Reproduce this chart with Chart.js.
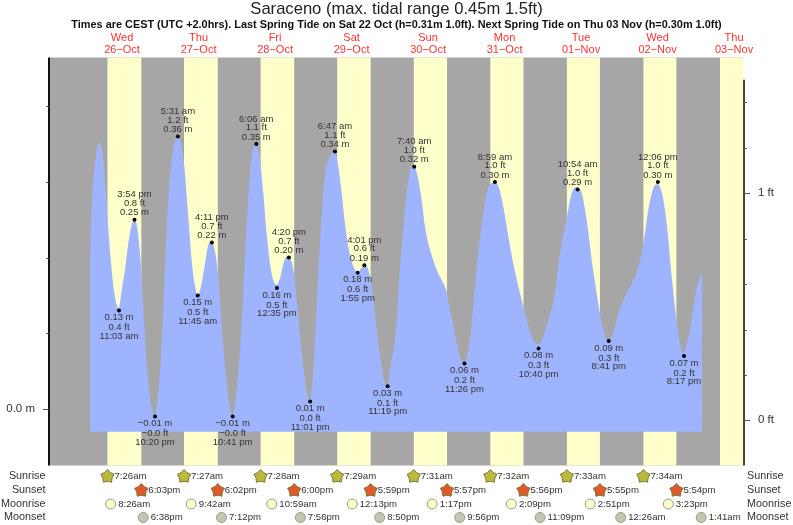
<!DOCTYPE html>
<html>
<head>
<meta charset="utf-8">
<title>Saraceno tide chart</title>
<script src="https://cdn.jsdelivr.net/npm/chart.js@4"></script>
<style>
  html, body { margin: 0; padding: 0; background: #fff; }
  canvas { display: block; }
</style>
</head>
<body>
<canvas id="tideChart" width="793" height="525"></canvas>
<script>
// --- data ---
const titleText = "Saraceno (max. tidal range 0.45m 1.5ft)";
const subtitleText = "Times are CEST (UTC +2.0hrs). Last Spring Tide on Sat 22 Oct (h=0.31m 1.0ft). Next Spring Tide on Thu 03 Nov (h=0.30m 1.0ft)";

const dayNames = ["Wed", "Thu", "Fri", "Sat", "Sun", "Mon", "Tue", "Wed", "Thu"];
const dayDates = ["26\u2212Oct", "27\u2212Oct", "28\u2212Oct", "29\u2212Oct", "30\u2212Oct", "31\u2212Oct", "01\u2212Nov", "02\u2212Nov", "03\u2212Nov"];

// hours since midnight on Wed 26 Oct
const tideHours = [
  1.95, 2.15, 2.68, 3.51, 4.87, 6.13, 6.86, 7.70, 8.74, 9.79, 10.94, 11.88, 12.92, 13.97, 15.02, 15.85, 16.69, 17.63, 18.68, 19.72,
  20.77, 22.13, 23.38, 24.43, 25.47, 26.52, 27.57, 28.61, 29.45, 30.49, 31.54, 32.79, 33.84, 34.89, 35.72, 36.77, 38.02, 39.07, 40.11, 41.16,
  42.21, 43.25, 44.30, 45.34, 46.60, 49.0, 50.36, 51.61, 52.66, 54.02, 55.27, 56.32, 57.37, 58.41, 59.46, 60.5, 61.55, 62.6, 63.64, 64.69,
  65.73, 66.78, 67.82, 68.87, 69.92, 70.96, 72.0, 73.05, 74.1, 75.14, 76.19, 77.44, 78.8, 79.85, 80.9, 81.94, 82.99, 84.03, 85.08, 86.12,
  87.17, 88.2, 89.26, 90.3, 91.35, 92.4, 93.44, 94.49, 95.22, 96.06, 98.15, 99.2, 100.24, 101.29, 102.34, 103.59, 104.74, 106.0, 107.04, 108.09,
  109.13, 110.7, 112.27, 113.84, 114.89, 115.93, 116.98, 118.02, 119.28, 120.43, 121.47, 122.73, 123.77, 125.03, 126.39, 127.75, 129.0, 130.26, 131.62, 133.19,
  134.75, 136.32, 137.9, 139.25, 140.5, 141.76, 142.8, 144.17, 145.73, 147.83, 149.4, 151.49, 153.06, 154.63, 156.2, 157.76, 159.33, 160.9, 161.95, 163.0,
  164.56, 165.6, 166.65, 167.7, 169.27, 170.83, 172.4, 174.0, 175.54, 177.1, 178.68, 179.93, 181.29, 182.86, 184.43, 185.79, 186.84, 188.09, 189.14, 190.18,
  191.75, 193.32, 194.05
];
const tideMetres = [
  .192, .228, .281, .325, .352, .329, .289, .237, .184, .148, .133, .157, .184, .219, .243, .250, .241, .206, .135, .060,
  .016, -.008, .021, .087, .184, .281, .329, .355, .361, .351, .320, .254, .197, .162, .151, .162, .192, .217, .221, .208,
  .175, .113, .056, .016, -.008, .078, .181, .281, .333, .351, .329, .285, .232, .192, .170, .164, .173, .192, .201, .199,
  .184, .144, .096, .056, .023, .012, .052, .135, .219, .285, .320, .336, .340, .320, .285, .245, .214, .195, .184, .181,
  .187, .189, .184, .162, .126, .087, .056, .034, .030, .052, .113, .184, .237, .285, .314, .321, .307, .276, .241, .219,
  .203, .184, .170, .155, .131, .109, .087, .069, .060, .074, .104, .162, .206, .250, .285, .298, .300, .292, .267, .228,
  .192, .162, .135, .113, .096, .087, .086, .096, .118, .153, .206, .252, .285, .293, .285, .250, .197, .153, .126, .104,
  .090, .096, .109, .126, .144, .157, .170, .188, .219, .263, .292, .297, .287, .245, .175, .122, .091, .073, .087, .104,
  .148, .175, .181
];
const tideFloorMetres = -0.03;

// labelled highs and lows
const extremeDays = [0, 0, 0, 1, 1, 1, 1, 2, 2, 2, 2, 3, 3, 3, 3, 4, 4, 5, 5, 6, 6, 7, 7];
const extremeClock = ["11:03 am", "3:54 pm", "10:20 pm", "5:31 am", "11:45 am", "4:11 pm", "10:41 pm", "6:06 am", "12:35 pm", "4:20 pm", "11:01 pm", "6:47 am", "1:55 pm", "4:01 pm", "11:19 pm", "7:40 am", "11:26 pm", "8:59 am", "10:40 pm", "10:54 am", "8:41 pm", "12:06 pm", "8:17 pm"];
const extremeMetres = [.13, .25, -.01, .36, .15, .22, -.01, .35, .16, .20, .01, .34, .18, .19, .03, .32, .06, .30, .08, .29, .09, .30, .07];
const extremeFeet = ["0.4", "0.8", "\u22120.0", "1.2", "0.5", "0.7", "\u22120.0", "1.1", "0.5", "0.7", "0.0", "1.1", "0.6", "0.6", "0.1", "1.0", "0.2", "1.0", "0.3", "1.0", "0.3", "1.0", "0.2"];
const extremeIsHigh = [false, true, false, true, false, true, false, true, false, true, false, true, false, true, false, true, false, true, false, true, false, true, false];

// almanac rows, one entry a day from 26 Oct
const sunriseTimes = ["7:26am", "7:27am", "7:28am", "7:29am", "7:31am", "7:32am", "7:33am", "7:34am"];
const sunsetTimes = ["6:03pm", "6:02pm", "6:00pm", "5:59pm", "5:57pm", "5:56pm", "5:55pm", "5:54pm"];
const moonriseTimes = ["8:26am", "9:42am", "10:59am", "12:13pm", "1:17pm", "2:09pm", "2:51pm", "3:23pm"];
const moonsetTimes = ["6:38pm", "7:12pm", "7:56pm", "8:50pm", "9:56pm", "11:09pm", "12:26am", "1:41am"];
const moonsetDays = [0, 1, 2, 3, 4, 5, 7, 8];
const lastSunrise = "7:35am"; // 03 Nov, only the edge of the band shows

const metreTicks = [0, 0.1, 0.2, 0.3, 0.4];
const footTicks = [0, 0.2, 0.4, 0.6, 0.8, 1, 1.2, 1.4];

// --- colours ---
const NIGHT = "#a6a6a6";
const DAY = "#ffffcc";
const WATER = "#9fb4ff";
const TEXT = "#333333";
const FONT = "'Liberation Sans', Arial, sans-serif";

// --- helpers ---
function clockToHours(text) {
  const m = text.match(/(\d+):(\d+)\s*(am|pm)/);
  let h = parseInt(m[1], 10) % 12;
  if (m[3] === "pm") h += 12;
  return h + parseInt(m[2], 10) / 60;
}

function hoursOf(day, text) {
  return day * 24 + clockToHours(text);
}

function minusSign(text) {
  return text.replace("-", "\u2212");
}

function drawStar(ctx, x, y, fill) {
  ctx.beginPath();
  for (let i = 0; i < 10; i++) {
    const r = i % 2 === 0 ? 7 : 4.8;
    const a = -Math.PI / 2 + i * Math.PI / 5;
    const px = x + r * Math.cos(a);
    const py = y + r * Math.sin(a);
    if (i === 0) ctx.moveTo(px, py);
    else ctx.lineTo(px, py);
  }
  ctx.closePath();
  ctx.fillStyle = fill;
  ctx.fill();
  ctx.lineWidth = 1;
  ctx.strokeStyle = "#77773a";
  ctx.stroke();
}

function drawMoon(ctx, x, y, fill) {
  ctx.beginPath();
  ctx.arc(x, y, 5, 0, Math.PI * 2);
  ctx.fillStyle = fill;
  ctx.fill();
  ctx.lineWidth = 1;
  ctx.strokeStyle = "#9a9a8a";
  ctx.stroke();
}

// --- plugins ---
// day and night bands behind the tide
const bandsPlugin = {
  id: "bands",
  beforeDatasetsDraw(chart) {
    const { ctx, chartArea: area, scales } = chart;
    ctx.save();
    ctx.fillStyle = NIGHT;
    ctx.fillRect(area.left, area.top, area.width, area.height);
    ctx.fillStyle = DAY;
    sunriseTimes.forEach((rise, i) => {
      const x0 = scales.x.getPixelForValue(hoursOf(i, rise));
      const x1 = scales.x.getPixelForValue(hoursOf(i, sunsetTimes[i]));
      ctx.fillRect(x0, area.top, x1 - x0, area.height);
    });
    const lastX = scales.x.getPixelForValue(hoursOf(8, lastSunrise));
    ctx.fillRect(lastX, area.top, area.right - lastX, area.height);
    ctx.restore();
  }
};

// axis lines, ticks, height labels and the almanac rows
const overlayPlugin = {
  id: "overlay",
  afterDatasetsDraw(chart) {
    const { ctx, chartArea: area, scales } = chart;
    ctx.save();

    // left axis
    ctx.strokeStyle = "#111";
    ctx.lineWidth = 2;
    ctx.beginPath();
    ctx.moveTo(area.left - 1, area.top);
    ctx.lineTo(area.left - 1, area.bottom);
    ctx.stroke();
    ctx.lineWidth = 1;
    ctx.strokeStyle = "#555";
    metreTicks.forEach(v => {
      const y = Math.round(scales.yM.getPixelForValue(v)) + 0.5;
      ctx.beginPath();
      ctx.moveTo(area.left - (v === 0 ? 7 : 4), y);
      ctx.lineTo(area.left - 1, y);
      ctx.stroke();
    });

    // right axis, stops short of the top
    ctx.strokeStyle = "#444";
    ctx.lineWidth = 2;
    ctx.beginPath();
    ctx.moveTo(area.right + 1, scales.yFt.getPixelForValue(1.5));
    ctx.lineTo(area.right + 1, area.bottom);
    ctx.stroke();
    ctx.lineWidth = 1;
    ctx.strokeStyle = "#555";
    footTicks.forEach(v => {
      const y = Math.round(scales.yFt.getPixelForValue(v)) + 0.5;
      ctx.beginPath();
      ctx.moveTo(area.right + 1, y);
      ctx.lineTo(area.right + (Number.isInteger(v) ? 7 : 4), y);
      ctx.stroke();
    });

    // text stack by each high and low
    ctx.fillStyle = TEXT;
    ctx.font = "9.5px " + FONT;
    ctx.textAlign = "center";
    ctx.textBaseline = "middle";
    extremeClock.forEach((clock, i) => {
      const x = scales.x.getPixelForValue(hoursOf(extremeDays[i], clock));
      const y = scales.yM.getPixelForValue(extremeMetres[i]);
      const m = minusSign(extremeMetres[i].toFixed(2)) + " m";
      const ft = extremeFeet[i] + " ft";
      if (extremeIsHigh[i]) {
        ctx.fillText(m, x, y - 7);
        ctx.fillText(ft, x, y - 16.5);
        ctx.fillText(clock, x, y - 25);
      } else {
        ctx.fillText(m, x, y + 7);
        ctx.fillText(ft, x, y + 17);
        ctx.fillText(clock, x, y + 25.5);
      }
    });

    // almanac rows under the plot
    const rowY = [476.5, 490.5, 504, 517.5];
    const rowNames = ["Sunrise", "Sunset", "Moonrise", "Moonset"];
    ctx.font = "10.8px " + FONT;
    rowNames.forEach((name, i) => {
      ctx.textAlign = "right";
      ctx.fillText(name, 45.5, rowY[i]);
      ctx.textAlign = "left";
      ctx.fillText(name, 747, rowY[i]);
    });

    ctx.font = "9.6px " + FONT;
    ctx.textAlign = "left";
    sunriseTimes.forEach((t, i) => {
      const x = scales.x.getPixelForValue(hoursOf(i, t));
      drawStar(ctx, x, rowY[0], "#bdb93a");
      ctx.fillStyle = TEXT;
      ctx.fillText(t, x + 7, rowY[0]);
    });
    sunsetTimes.forEach((t, i) => {
      const x = scales.x.getPixelForValue(hoursOf(i, t));
      drawStar(ctx, x, rowY[1], "#e0592a");
      ctx.fillStyle = TEXT;
      ctx.fillText(t, x + 7, rowY[1]);
    });
    moonriseTimes.forEach((t, i) => {
      const x = scales.x.getPixelForValue(hoursOf(i, t));
      drawMoon(ctx, x, rowY[2], "#ffffcc");
      ctx.fillStyle = TEXT;
      ctx.fillText(t, x + 7.5, rowY[2]);
    });
    moonsetTimes.forEach((t, i) => {
      const x = scales.x.getPixelForValue(hoursOf(moonsetDays[i], t));
      drawMoon(ctx, x, rowY[3], "#c6c6b0");
      ctx.fillStyle = TEXT;
      ctx.fillText(t, x + 7.5, rowY[3]);
    });

    ctx.restore();
  }
};

// --- chart ---
const ctx = document.getElementById("tideChart").getContext("2d");
new Chart(ctx, {
  type: "line",
  plugins: [bandsPlugin, overlayPlugin],
  data: {
    datasets: [{
      label: "Tide height (m)",
      data: tideHours.map((h, i) => ({ x: h, y: tideMetres[i] })),
      yAxisID: "yM",
      borderWidth: 0,
      pointRadius: 0,
      cubicInterpolationMode: "monotone",
      backgroundColor: WATER,
      fill: { value: tideFloorMetres },
      order: 2
    }, {
      label: "Highs and lows",
      data: extremeClock.map((c, i) => ({ x: hoursOf(extremeDays[i], c), y: extremeMetres[i] })),
      yAxisID: "yM",
      showLine: false,
      pointRadius: 2,
      pointBorderWidth: 0,
      pointBackgroundColor: "#000",
      order: 1
    }]
  },
  options: {
    responsive: false,
    animation: false,
    layout: { padding: { top: 0, bottom: 59.5, left: 0, right: 0 } },
    plugins: {
      legend: { display: false },
      tooltip: { enabled: false },
      title: {
        display: true,
        text: titleText,
        color: "#222",
        font: { family: FONT, size: 16.6, weight: "normal", lineHeight: "18px" },
        padding: 0
      },
      subtitle: {
        display: true,
        text: subtitleText,
        color: "#111",
        font: { family: FONT, size: 10.9, weight: "bold", lineHeight: "14px" },
        padding: 0
      }
    },
    scales: {
      x: {
        type: "linear",
        position: "top",
        min: -10.6,
        max: 206.8,
        grid: { display: false, drawTicks: false },
        border: { display: false },
        afterBuildTicks: axis => { axis.ticks = dayNames.map((d, i) => ({ value: i * 24 + 12 })); },
        afterFit: axis => { axis.height = 25.5; },
        ticks: {
          autoSkip: false,
          maxRotation: 0,
          minRotation: 0,
          padding: 2,
          color: "#ff3030",
          font: { family: FONT, size: 11, lineHeight: "12px" },
          callback: (value, i) => [dayNames[i], dayDates[i]]
        }
      },
      yM: {
        type: "linear",
        position: "left",
        min: -0.0746,
        max: 0.4643,
        grid: { display: false, drawTicks: false },
        border: { display: false },
        afterBuildTicks: axis => { axis.ticks = metreTicks.map(v => ({ value: v })); },
        afterFit: axis => { axis.width = 50; },
        ticks: {
          padding: 15,
          autoSkip: false,
          color: TEXT,
          font: { family: FONT, size: 11.5 },
          callback: value => (value === 0 ? "0.0 m" : "")
        }
      },
      yFt: {
        type: "linear",
        position: "right",
        min: -0.199,
        max: 1.598,
        grid: { display: false, drawTicks: false },
        border: { display: false },
        afterBuildTicks: axis => { axis.ticks = footTicks.map(v => ({ value: v })); },
        afterFit: axis => { axis.width = 50; },
        ticks: {
          padding: 15,
          autoSkip: false,
          color: TEXT,
          font: { family: FONT, size: 11.5 },
          callback: value => (value === 0 ? "0 ft" : value === 1 ? "1 ft" : "")
        }
      }
    }
  }
});
</script>
</body>
</html>
